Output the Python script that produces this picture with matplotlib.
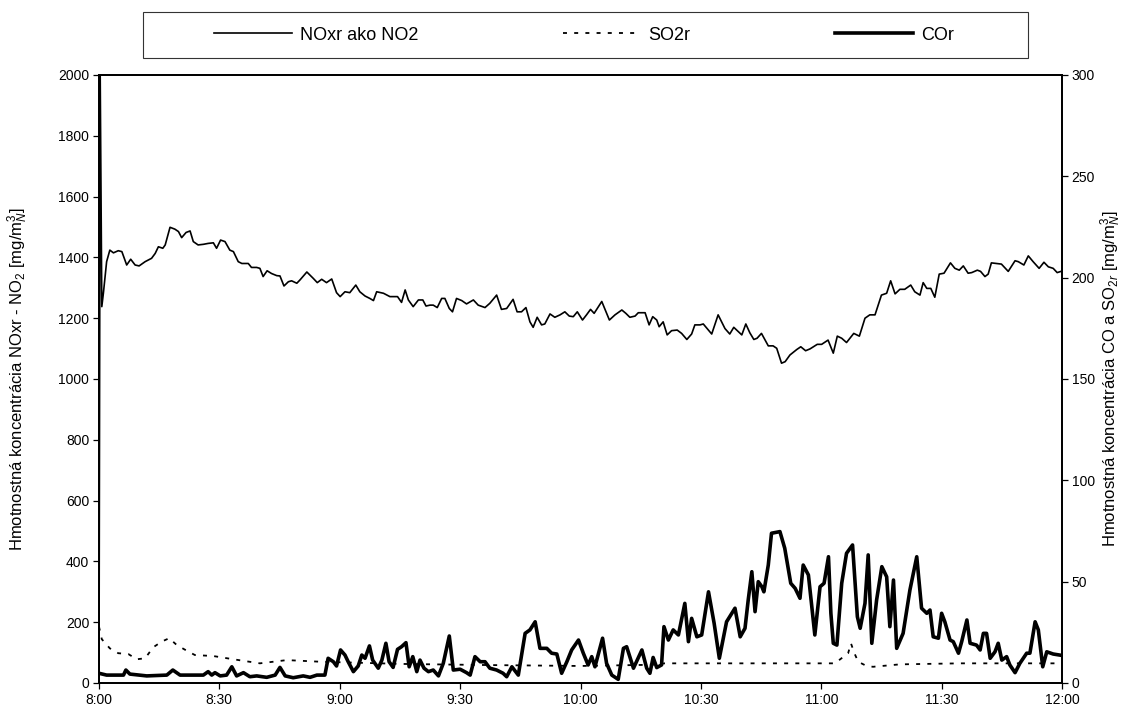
import matplotlib

matplotlib.use("Agg")
import matplotlib.pyplot as plt
from matplotlib.lines import Line2D
from matplotlib.patches import Rectangle

plt.rcParams["font.family"] = ["Liberation Sans", "DejaVu Sans"]
plt.rcParams["mathtext.fontset"] = "custom"
plt.rcParams["mathtext.rm"] = "Liberation Sans"
plt.rcParams["mathtext.it"] = "Liberation Sans:italic"

# time axis: minutes after 8:00
tick_minutes = [0, 30, 60, 90, 120, 150, 180, 210, 240]
tick_labels = ["8:00", "8:30", "9:00", "9:30", "10:00", "10:30", "11:00", "11:30", "12:00"]

# NOxr as NO2, left axis [mg/m3]
nox_t = [
    0.0, 0.3, 0.7, 1.1, 1.9, 2.7, 3.6, 4.8, 5.7, 6.9, 7.9, 9.0, 10.0, 11.5, 13.1, 14.0,
    14.8, 15.9, 16.5, 17.7, 18.9, 19.8, 20.6, 21.7, 22.7, 23.5, 24.7, 26.0, 27.2, 28.5,
    29.3, 30.3, 31.4, 32.6, 33.5, 34.7, 35.6, 37.2, 38.0, 39.3, 40.1, 40.9, 41.9, 43.0,
    44.3, 45.1, 46.1, 47.2, 48.0, 49.3, 50.1, 51.8, 53.4, 54.4, 55.5, 56.7, 58.0, 59.2,
    60.1, 61.3, 62.5, 64.0, 65.0, 66.3, 67.5, 68.4, 69.2, 70.9, 72.5, 74.4, 75.4, 76.3,
    77.1, 78.3, 79.6, 80.7, 81.5, 82.5, 83.3, 84.3, 85.4, 86.2, 87.3, 88.1, 89.1, 90.4,
    91.6, 93.3, 94.5, 96.2, 97.4, 99.1, 100.3, 101.6, 103.2, 104.2, 105.3, 106.4, 107.4,
    108.2, 109.2, 110.3, 111.1, 112.4, 113.6, 114.9, 116.1, 117.2, 118.2, 119.2, 120.5,
    121.5, 122.5, 123.4, 125.3, 127.2, 128.6, 130.3, 131.3, 132.3, 133.6, 134.4, 136.1,
    137.1, 138.0, 139.0, 139.6, 140.6, 141.6, 142.7, 144.1, 145.2, 146.5, 147.7, 148.5,
    149.8, 150.6, 152.7, 154.3, 156.0, 157.2, 158.2, 159.3, 160.2, 161.2, 162.2, 163.2,
    164.0, 165.1, 166.8, 168.0, 168.9, 170.1, 171.0, 172.2, 173.9, 174.9, 176.1, 177.2,
    179.0, 180.1, 181.7, 183.0, 184.0, 185.1, 186.3, 188.1, 189.5, 190.9, 192.1, 193.4,
    195.0, 196.3, 197.3, 198.4, 199.6, 200.8, 202.3, 203.3, 204.6, 205.4, 206.3, 207.3,
    208.3, 209.4, 210.6, 212.2, 213.3, 214.4, 215.4, 216.6, 217.5, 218.9, 219.7, 220.8,
    221.6, 222.4, 223.7, 224.9, 226.6, 228.3, 229.1, 230.5, 231.6, 232.8, 234.3, 235.5,
    236.6, 237.8, 238.8, 240.0,
]
nox_v = [
    0, 2000, 1238, 1283, 1386, 1424, 1415, 1422, 1419, 1375, 1394, 1375, 1372, 1386, 1397, 1413,
    1435, 1430, 1441, 1499, 1493, 1485, 1465, 1482, 1487, 1452, 1441, 1443, 1446, 1448,
    1430, 1457, 1452, 1424, 1419, 1386, 1380, 1380, 1367, 1367, 1364, 1337, 1356, 1347,
    1340, 1339, 1306, 1320, 1323, 1315, 1326, 1352, 1331, 1317, 1328, 1317, 1329, 1284,
    1271, 1287, 1284, 1309, 1287, 1273, 1265, 1258, 1287, 1282, 1271, 1271, 1252, 1293,
    1260, 1238, 1260, 1260, 1240, 1243, 1243, 1235, 1265, 1265, 1232, 1221, 1265, 1258,
    1247, 1260, 1243, 1235, 1249, 1276, 1229, 1232, 1262, 1221, 1221, 1235, 1188,
    1170, 1203, 1178, 1181, 1214, 1203, 1211, 1221, 1207, 1205, 1221, 1194,
    1211, 1229, 1216, 1255, 1194, 1211, 1227, 1216, 1203, 1207, 1218, 1218,
    1178, 1205, 1194, 1172, 1188, 1145, 1159, 1161, 1150, 1130, 1148, 1178,
    1178, 1181, 1148, 1211, 1166, 1148, 1170, 1156, 1145, 1181, 1152, 1130,
    1134, 1150, 1109, 1109, 1101, 1052, 1057, 1079, 1097, 1106, 1093, 1099,
    1114, 1114, 1128, 1085, 1141, 1134, 1120, 1150, 1141, 1200, 1211, 1211,
    1276, 1282, 1323, 1280, 1295, 1295, 1309, 1287, 1276, 1317, 1298, 1298,
    1269, 1345, 1348, 1382, 1364, 1358, 1372, 1348, 1350, 1358, 1354, 1337,
    1345, 1382, 1380, 1378, 1354, 1389, 1386, 1375, 1405, 1386, 1364, 1384,
    1369, 1364, 1350, 1355,
]

# SO2r, right axis [mg/m3]
so2_t = [0.0, 0.7, 2.7, 4.8, 7.3, 9.4, 11.5, 13.5, 15.6, 17.5, 19.4, 21.9, 23.9, 28.5,
         33.5, 40.1, 46.8, 55.1, 75.8, 95.0, 119.9, 138.0, 141.0, 174.7, 183.4, 186.7,
         187.4, 188.2, 189.2, 191.3, 192.9, 199.6, 214.6, 240.0]
so2_v = [27.8, 21.6, 17.1, 14.7, 14.3, 11.7, 12.2, 17.6, 20.4, 22.1, 18.7, 15.9, 13.8, 13.3,
         11.7, 9.7, 11.3, 10.5, 9.4, 8.9, 8.4, 9.0, 9.7, 9.7, 9.7, 14.7,
         19.6, 15.0, 10.5, 8.4, 8.0, 9.2, 9.7, 9.7]

# COr, right axis [mg/m3]
co_t = [
    0.0, 1.9, 6.1, 6.7, 7.7, 11.9, 16.9, 18.4, 20.2, 26.0, 27.2, 28.1, 28.9, 30.2, 31.8,
    33.1, 34.3, 36.0, 37.6, 39.3, 41.8, 43.9, 45.1, 46.4, 48.4, 50.9, 52.6, 54.3, 56.3,
    57.1, 58.4, 59.2, 60.2, 61.3, 62.1, 63.4, 64.6, 65.5, 66.3, 67.4, 68.2, 69.6, 70.5,
    71.5, 72.3, 73.3, 74.4, 75.4, 76.5, 77.3, 78.2, 79.2, 80.0, 81.0, 82.1, 83.3, 84.6,
    85.8, 87.3, 88.3, 90.0, 91.6, 92.5, 93.7, 95.0, 96.2, 97.4, 99.1, 100.7, 101.6, 102.9,
    104.5, 106.2, 107.4, 108.7, 109.9, 111.6, 112.8, 114.1, 115.3, 116.6, 117.8, 119.5,
    120.7, 121.9, 122.8, 123.6, 125.5, 126.5, 127.8, 129.4, 130.7, 131.5, 133.2, 135.3,
    136.5, 137.3, 138.1, 139.0, 140.2, 140.8, 141.9, 143.1, 144.4, 146.0, 146.9, 147.7,
    149.0, 150.2, 151.9, 153.3, 154.6, 156.4, 158.5, 159.8, 161.0, 161.8, 162.7, 163.5,
    164.3, 165.2, 165.7, 166.8, 167.6, 169.7, 170.9, 172.4, 173.5, 174.7, 175.5, 176.8,
    178.4, 179.7, 180.7, 181.8, 182.4, 183.0, 183.9, 185.1, 186.3, 187.8, 189.0, 189.7,
    190.9, 191.7, 192.6, 193.8, 195.1, 196.3, 197.1, 198.0, 198.8, 200.4, 202.1, 203.8,
    205.0, 206.3, 207.1, 207.9, 209.2, 210.0, 210.8, 212.1, 212.9, 214.2, 215.0, 216.3,
    217.1, 218.7, 219.6, 220.4, 221.2, 222.1, 223.3, 224.1, 225.0, 226.2, 227.0, 228.3,
    229.5, 231.2, 232.0, 233.3, 234.1, 235.2, 236.2, 237.8, 239.5, 240.0,
]
co_v = [
    4.8, 3.9, 3.9, 6.4, 4.4, 3.5, 3.9, 6.4, 3.9, 3.9, 5.6, 3.9, 5.1, 3.5, 3.9,
    8.0, 3.5, 5.1, 3.1, 3.5, 2.8, 3.9, 7.7, 3.5, 2.6, 3.5, 2.8, 3.9, 3.9,
    12.2, 10.5, 8.4, 16.3, 13.8, 10.5, 5.6, 8.4, 13.8, 12.2, 18.3, 11.3, 7.3, 11.3,
    19.6, 10.5, 7.7, 16.6, 17.9, 19.9, 8.0, 13.0, 5.6, 11.3, 7.3, 5.6, 6.4, 3.5,
    9.7, 23.2, 6.4, 6.8, 5.1, 3.9, 13.0, 10.5, 10.5, 7.3, 6.4, 4.8, 3.1, 8.0,
    3.9, 24.5, 26.2, 30.2, 17.1, 17.1, 14.7, 14.3, 4.8, 10.5, 16.3, 21.2,
    14.7, 8.9, 13.0, 8.0, 22.1, 9.7, 3.9, 1.8, 17.1, 17.9, 7.3, 16.3,
    7.3, 4.8, 12.6, 7.6, 8.9, 27.8, 21.2, 26.2, 23.7, 39.3, 20.4, 31.9,
    22.8, 23.7, 45.0, 29.5, 12.2, 30.2, 36.9, 22.8, 27.0, 41.0, 54.9, 35.2,
    50.0, 47.5, 45.0, 58.2, 73.9, 74.7, 66.5, 49.2, 46.7, 41.8, 58.2, 53.3,
    23.7, 47.5, 49.2, 62.3, 34.4, 19.6, 18.7, 49.2, 64.0, 68.1, 32.7, 27.0,
    39.3, 63.2, 19.6, 41.0, 57.4, 52.4, 27.8, 50.8, 17.1, 24.5, 45.9, 62.3,
    36.9, 34.4, 36.0, 22.8, 22.1, 34.4, 30.2, 21.2, 20.4, 14.7, 20.4, 31.1,
    19.6, 18.7, 16.3, 24.5, 24.5, 12.2, 15.4, 19.6, 11.3, 13.0, 8.9, 5.1,
    9.7, 14.7, 14.7, 30.2, 26.2, 8.0, 15.4, 14.3, 13.8, 13.6,
]

W, H = 1124, 709
fig = plt.figure(figsize=(W / 100, H / 100), dpi=100)
ax = fig.add_axes([99 / W, 1 - 683 / H, 963 / W, 608 / H])
ax2 = ax.twinx()

ax.plot(nox_t, nox_v, color="black", linewidth=1.2, solid_joinstyle="round")
ax2.plot(so2_t, so2_v, color="black", linewidth=1.3, linestyle=(0, (2.2, 4.0)))
ax2.plot(co_t, co_v, color="black", linewidth=2.6, solid_joinstyle="round")

ax.set_xlim(0, 240)
ax.set_ylim(0, 2000)
ax2.set_ylim(0, 300)
ax.set_xticks(tick_minutes)
ax.set_xticklabels(tick_labels)
ax.set_yticks(range(0, 2001, 200))
ax2.set_yticks(range(0, 301, 50))

for a in (ax, ax2):
    a.tick_params(direction="out", length=4, width=0.9, labelsize=10, pad=3, colors="black")
    for s in a.spines.values():
        s.set_linewidth(1.3)
        s.set_color("black")

ax.set_ylabel(r"Hmotnostná koncentrácia NOxr - NO$_2$ [mg/m$_{N}^{3}$]", fontsize=12)
ax.yaxis.set_label_coords(-0.072, 0.5)
ax2.set_ylabel(r"Hmotnostná koncentrácia CO a SO$_{2r}$ [mg/m$_{N}^{3}$]", fontsize=12)
ax2.yaxis.set_label_coords(1.038, 0.5)

# legend box drawn separately, entries laid out inside it
fig.patches.append(Rectangle((143 / W, 1 - 58 / H), 885 / W, 46 / H,
                             transform=fig.transFigure, fill=False,
                             edgecolor="#333333", linewidth=0.8))
handles = [
    Line2D([], [], color="black", linewidth=1.2),
    Line2D([], [], color="black", linewidth=1.3, linestyle=(0, (2.2, 4.0))),
    Line2D([], [], color="black", linewidth=2.6),
]
fig.legend(handles, ["NOxr ako NO2", "SO2r", "COr"], loc="center",
           bbox_to_anchor=(584 / W, 1 - 35 / H), ncol=3, frameon=False,
           fontsize=13, handlelength=4.3, handletextpad=0.45, columnspacing=8.0)

fig.savefig("out.png", dpi=100)
